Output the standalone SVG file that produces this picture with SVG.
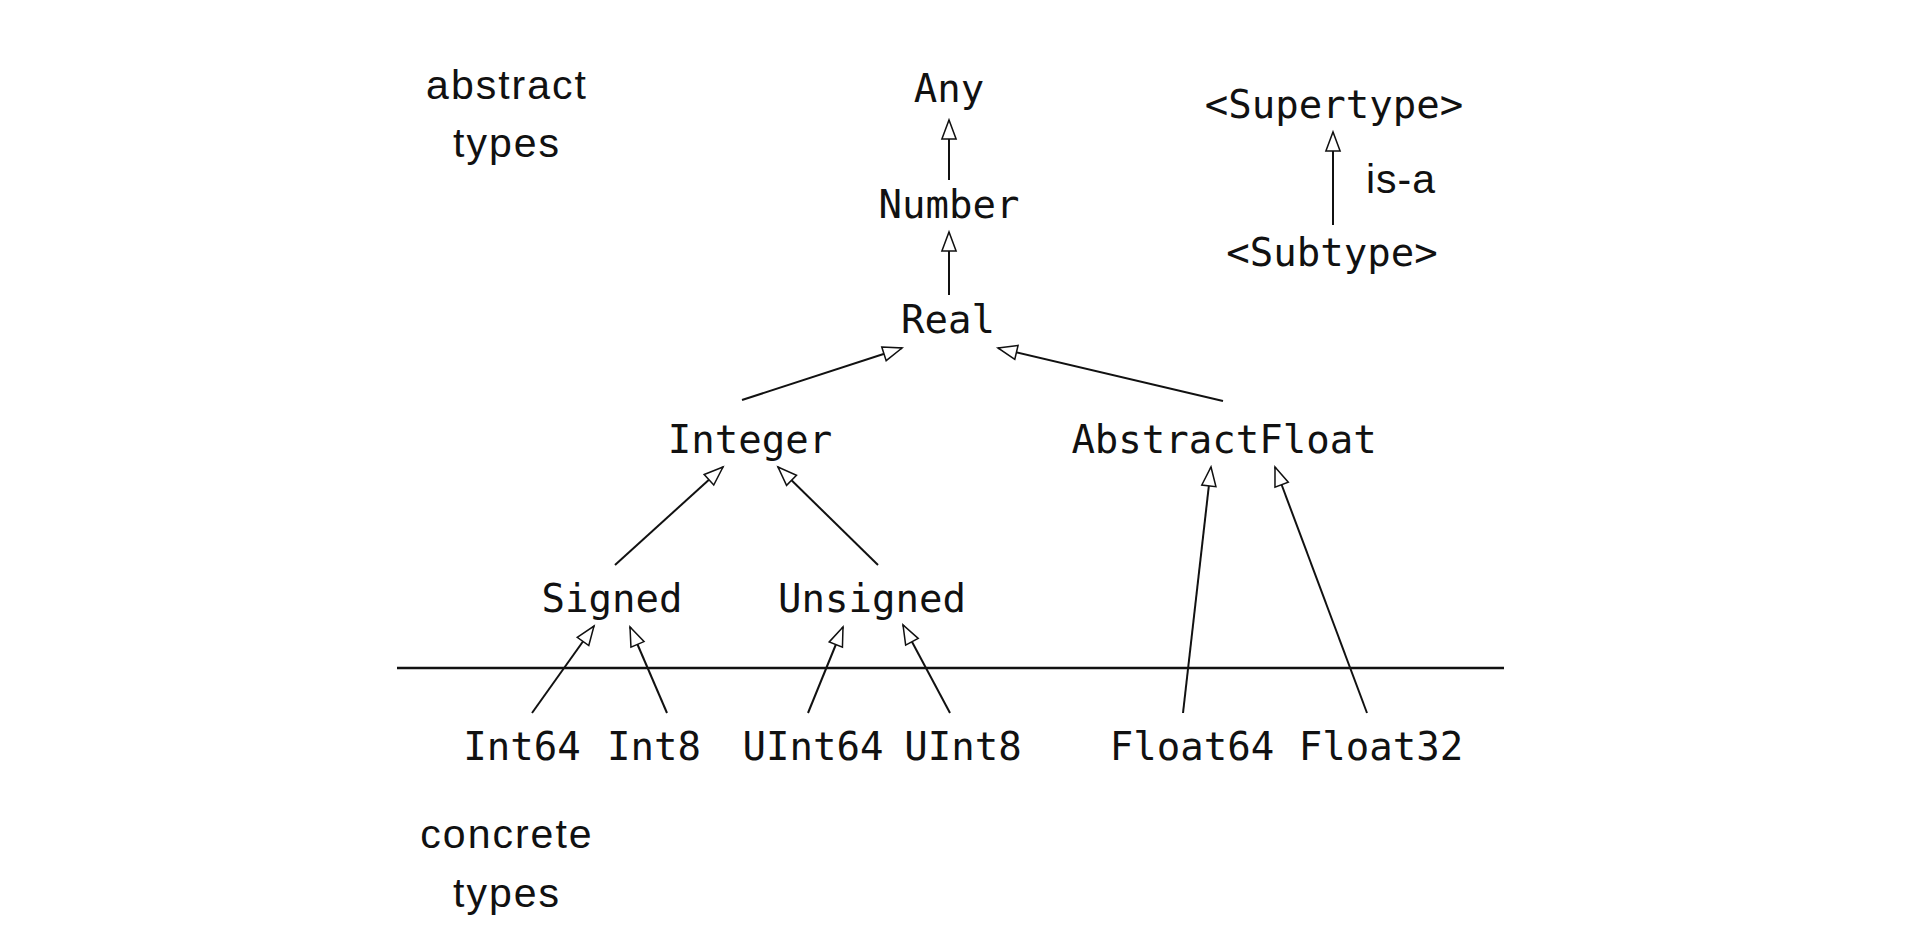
<svg xmlns="http://www.w3.org/2000/svg" width="1922" height="940" viewBox="0 0 1922 940">
<style>
.mono{font-family:"DejaVu Sans Mono","Liberation Mono",monospace;font-size:39px;fill:#111;text-anchor:middle}
.sans{font-family:"Liberation Sans",Arial,sans-serif;font-size:41px;fill:#111;text-anchor:middle;letter-spacing:2px}
.edge{stroke:#111;stroke-width:2;fill:none}
</style>
<defs>
<marker id="tri" markerUnits="userSpaceOnUse" markerWidth="24" markerHeight="18" refX="20" refY="7.5" orient="auto" viewBox="-2 -2 24 19">
<path d="M0,0 L20,7.5 L0,15 Z" fill="#fff" stroke="#111" stroke-width="1.6" stroke-linejoin="miter"/>
</marker>
</defs>
<rect width="1922" height="940" fill="#fff"/>
<g id="labels">
<text class="sans" x="507" y="99">abstract</text>
<text class="sans" x="507" y="157">types</text>
<text class="sans" x="507" y="848">concrete</text>
<text class="sans" x="507" y="907">types</text>
<text class="sans" x="1401" y="193" style="letter-spacing:1px">is-a</text>
</g>
<line id="separator" x1="397" y1="668" x2="1504" y2="668" stroke="#111" stroke-width="2.5"/>
<g id="connectors">
<line class="edge" x1="949" y1="180" x2="949" y2="120" marker-end="url(#tri)"/>
<line class="edge" x1="949" y1="295" x2="949" y2="232" marker-end="url(#tri)"/>
<line class="edge" x1="742" y1="400" x2="902" y2="348" marker-end="url(#tri)"/>
<line class="edge" x1="1223" y1="401" x2="998" y2="348" marker-end="url(#tri)"/>
<line class="edge" x1="615" y1="565" x2="723" y2="467" marker-end="url(#tri)"/>
<line class="edge" x1="878" y1="565" x2="778" y2="467" marker-end="url(#tri)"/>
<line class="edge" x1="1183" y1="713" x2="1211" y2="467" marker-end="url(#tri)"/>
<line class="edge" x1="1367" y1="713" x2="1275" y2="467" marker-end="url(#tri)"/>
<line class="edge" x1="532" y1="713" x2="594" y2="626" marker-end="url(#tri)"/>
<line class="edge" x1="667" y1="713" x2="630" y2="627" marker-end="url(#tri)"/>
<line class="edge" x1="808" y1="713" x2="843" y2="627" marker-end="url(#tri)"/>
<line class="edge" x1="950" y1="713" x2="903" y2="625" marker-end="url(#tri)"/>
<line class="edge" x1="1333" y1="225" x2="1333" y2="132" marker-end="url(#tri)"/>
</g>
<g id="node-any"><text class="mono" x="949" y="102">Any</text></g>
<g id="node-number"><text class="mono" x="949" y="218">Number</text></g>
<g id="node-real"><text class="mono" x="948" y="333">Real</text></g>
<g id="node-integer"><text class="mono" x="750" y="453">Integer</text></g>
<g id="node-abstractfloat"><text class="mono" x="1224" y="453">AbstractFloat</text></g>
<g id="node-signed"><text class="mono" x="612" y="612">Signed</text></g>
<g id="node-unsigned"><text class="mono" x="872" y="612">Unsigned</text></g>
<g id="node-int64"><text class="mono" x="522" y="760">Int64</text></g>
<g id="node-int8"><text class="mono" x="654" y="760">Int8</text></g>
<g id="node-uint64"><text class="mono" x="813" y="760">UInt64</text></g>
<g id="node-uint8"><text class="mono" x="963" y="760">UInt8</text></g>
<g id="node-float64"><text class="mono" x="1192" y="760">Float64</text></g>
<g id="node-float32"><text class="mono" x="1381" y="760">Float32</text></g>
<g id="node-supertype"><text class="mono" x="1334" y="118">&lt;Supertype&gt;</text></g>
<g id="node-subtype"><text class="mono" x="1332" y="266">&lt;Subtype&gt;</text></g>
</svg>
